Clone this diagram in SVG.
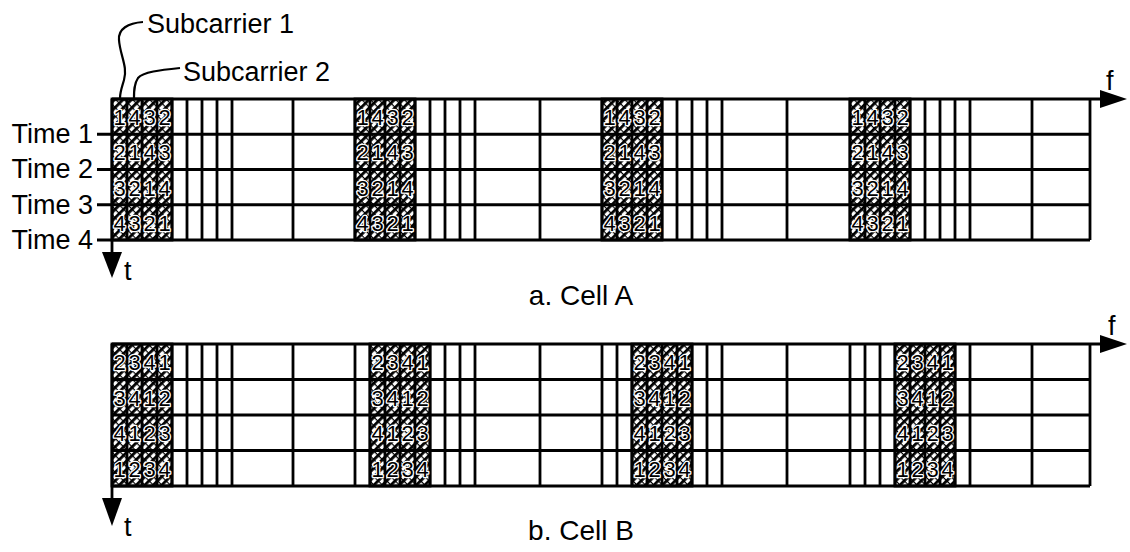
<svg xmlns="http://www.w3.org/2000/svg" width="1130" height="552" viewBox="0 0 1130 552">
<style>
.lbl{font-family:"Liberation Sans",Arial,sans-serif;font-size:27px;fill:#000}
.cap{font-size:28px}
.d{font-family:"Liberation Sans",Arial,sans-serif;font-size:22px;fill:#000;text-anchor:middle;stroke:#fff;stroke-width:2.5px;paint-order:stroke;stroke-linejoin:round}
.grid{fill:none;stroke:#000;stroke-width:2.8}
.lead{fill:none;stroke:#000;stroke-width:2.2}
.hatch{fill:url(#hatch);stroke:#000;stroke-width:2.8}
</style>
<defs>
<pattern id="hatch" width="6" height="6" patternUnits="userSpaceOnUse" patternTransform="rotate(45)">
<rect width="6" height="6" fill="#fff"/>
<rect x="0" y="0" width="2.8" height="6" fill="#000"/>
<rect x="0" y="0" width="6" height="1.2" fill="#000"/>
</pattern>
</defs>
<rect width="1130" height="552" fill="#fff"/>

<g id="labels">
<text class="lbl" x="147" y="33">Subcarrier 1</text>
<text class="lbl" x="183" y="81">Subcarrier 2</text>
<text class="lbl" x="93" y="143" text-anchor="end">Time 1</text>
<text class="lbl" x="93" y="178" text-anchor="end">Time 2</text>
<text class="lbl" x="93" y="214" text-anchor="end">Time 3</text>
<text class="lbl" x="93" y="249" text-anchor="end">Time 4</text>
<text class="lbl" x="124" y="280">t</text>
<text class="lbl" x="1106" y="90">f</text>
<text class="lbl cap" x="581" y="305" text-anchor="middle">a. Cell A</text>
<text class="lbl" x="124" y="536">t</text>
<text class="lbl" x="1108" y="335">f</text>
<text class="lbl cap" x="581" y="540" text-anchor="middle">b. Cell B</text>
</g>

<g id="cellA">
<rect class="hatch" x="112" y="99" width="60" height="141"/>
<rect class="hatch" x="355" y="99" width="60" height="141"/>
<rect class="hatch" x="602" y="99" width="60" height="141"/>
<rect class="hatch" x="850" y="99" width="60" height="141"/>
<path class="grid" d="M112 99V240M127 99V240M142 99V240M157 99V240M172 99V240M187 99V240M202 99V240M217 99V240M232 99V240M293 99V240M355 99V240M370 99V240M385 99V240M400 99V240M415 99V240M430 99V240M445 99V240M460 99V240M475 99V240M540 99V240M602 99V240M617 99V240M632 99V240M647 99V240M662 99V240M677 99V240M692 99V240M707 99V240M722 99V240M787 99V240M850 99V240M865 99V240M880 99V240M895 99V240M910 99V240M925 99V240M940 99V240M955 99V240M970 99V240M1032 99V240M1090 99V240"/>
<path class="grid" d="M112 99H1104M97 134.25H1090M97 169.5H1090M97 204.75H1090M97 240H1090"/>
<text class="d" x="119.5 134.5 149.5 164.5" y="125">1432</text>
<text class="d" x="119.5 134.5 149.5 164.5" y="160">2143</text>
<text class="d" x="119.5 134.5 149.5 164.5" y="196">3214</text>
<text class="d" x="119.5 134.5 149.5 164.5" y="231">4321</text>
<text class="d" x="362.5 377.5 392.5 407.5" y="125">1432</text>
<text class="d" x="362.5 377.5 392.5 407.5" y="160">2143</text>
<text class="d" x="362.5 377.5 392.5 407.5" y="196">3214</text>
<text class="d" x="362.5 377.5 392.5 407.5" y="231">4321</text>
<text class="d" x="609.5 624.5 639.5 654.5" y="125">1432</text>
<text class="d" x="609.5 624.5 639.5 654.5" y="160">2143</text>
<text class="d" x="609.5 624.5 639.5 654.5" y="196">3214</text>
<text class="d" x="609.5 624.5 639.5 654.5" y="231">4321</text>
<text class="d" x="857.5 872.5 887.5 902.5" y="125">1432</text>
<text class="d" x="857.5 872.5 887.5 902.5" y="160">2143</text>
<text class="d" x="857.5 872.5 887.5 902.5" y="196">3214</text>
<text class="d" x="857.5 872.5 887.5 902.5" y="231">4321</text>
</g>

<g id="cellB">
<rect class="hatch" x="112" y="344" width="60" height="142"/>
<rect class="hatch" x="370" y="344" width="60" height="142"/>
<rect class="hatch" x="632" y="344" width="60" height="142"/>
<rect class="hatch" x="895" y="344" width="60" height="142"/>
<path class="grid" d="M112 344V486M127 344V486M142 344V486M157 344V486M172 344V486M187 344V486M202 344V486M217 344V486M232 344V486M293 344V486M355 344V486M370 344V486M385 344V486M400 344V486M415 344V486M430 344V486M445 344V486M460 344V486M475 344V486M540 344V486M602 344V486M617 344V486M632 344V486M647 344V486M662 344V486M677 344V486M692 344V486M707 344V486M722 344V486M787 344V486M850 344V486M865 344V486M880 344V486M895 344V486M910 344V486M925 344V486M940 344V486M955 344V486M970 344V486M1032 344V486M1090 344V486"/>
<path class="grid" d="M112 344H1104M112 379.5H1090M112 415H1090M112 450.5H1090M112 486H1090"/>
<text class="d" x="119.5 134.5 149.5 164.5" y="370">2341</text>
<text class="d" x="119.5 134.5 149.5 164.5" y="406">3412</text>
<text class="d" x="119.5 134.5 149.5 164.5" y="441">4123</text>
<text class="d" x="119.5 134.5 149.5 164.5" y="477">1234</text>
<text class="d" x="377.5 392.5 407.5 422.5" y="370">2341</text>
<text class="d" x="377.5 392.5 407.5 422.5" y="406">3412</text>
<text class="d" x="377.5 392.5 407.5 422.5" y="441">4123</text>
<text class="d" x="377.5 392.5 407.5 422.5" y="477">1234</text>
<text class="d" x="639.5 654.5 669.5 684.5" y="370">2341</text>
<text class="d" x="639.5 654.5 669.5 684.5" y="406">3412</text>
<text class="d" x="639.5 654.5 669.5 684.5" y="441">4123</text>
<text class="d" x="639.5 654.5 669.5 684.5" y="477">1234</text>
<text class="d" x="902.5 917.5 932.5 947.5" y="370">2341</text>
<text class="d" x="902.5 917.5 932.5 947.5" y="406">3412</text>
<text class="d" x="902.5 917.5 932.5 947.5" y="441">4123</text>
<text class="d" x="902.5 917.5 932.5 947.5" y="477">1234</text>
</g>

<g id="connectors">
<path class="lead" d="M143 22C128 23 118 29 119 40C120 55 128 67 124 80C122 87 120 92 120 98"/>
<path class="lead" d="M180 68C160 70 143 72 138 78C134 84 134 91 134 98"/>
<path class="grid" d="M112 240V256"/>
<polygon points="102,252 122,252 112,278" fill="#000"/>
<path class="grid" d="M112 486V502"/>
<polygon points="102,498 122,498 112,526" fill="#000"/>
<polygon points="1100,90 1127,99 1100,108" fill="#000"/>
<polygon points="1100,335 1127,344 1100,353" fill="#000"/>
</g>
</svg>
